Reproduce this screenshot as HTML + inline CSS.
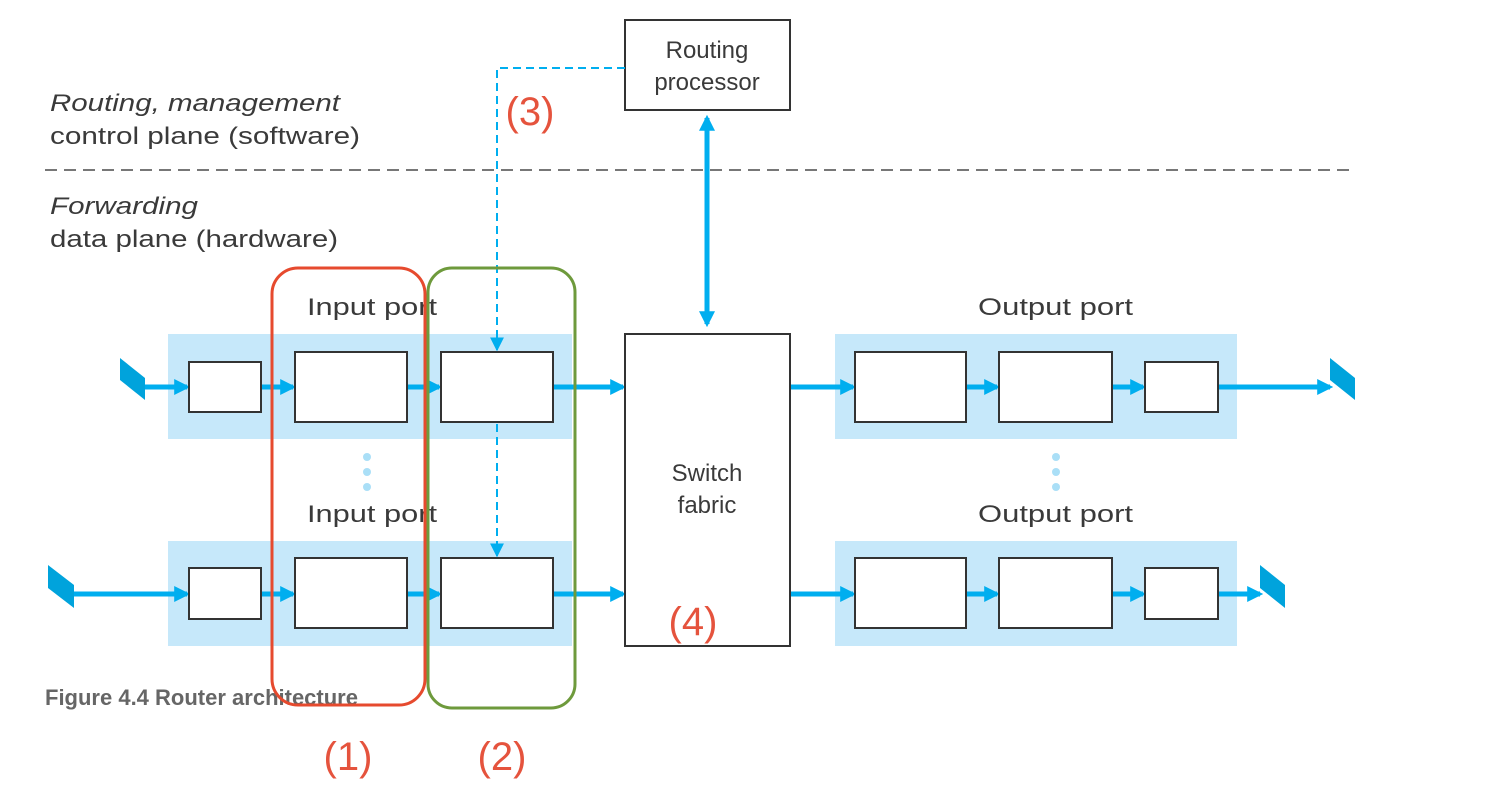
<!DOCTYPE html>
<html><head><meta charset="utf-8"><style>html,body{margin:0;padding:0;background:#fff}svg{display:block}</style></head>
<body>
<svg width="1488" height="792" viewBox="0 0 1488 792" xmlns="http://www.w3.org/2000/svg" font-family="Liberation Sans, sans-serif">
<defs>
<marker id="ah" viewBox="0 0 10 10" refX="8" refY="5" markerWidth="3.2" markerHeight="3.2" orient="auto-start-reverse"><path d="M0,0L10,5L0,10z" fill="#00aeef"/></marker>
<marker id="ahd" viewBox="0 0 10 10" refX="9" refY="5" markerWidth="7" markerHeight="7" orient="auto"><path d="M0,0L10,5L0,10z" fill="#00aeef"/></marker>
</defs>
<line x1="45" y1="170" x2="1355" y2="170" stroke="#777" stroke-width="2" stroke-dasharray="12,7"/>
<!-- bands -->
<rect x="168" y="334" width="404" height="105" fill="#c6e8fa"/>
<rect x="168" y="541" width="404" height="105" fill="#c6e8fa"/>
<rect x="835" y="334" width="402" height="105" fill="#c6e8fa"/>
<rect x="835" y="541" width="402" height="105" fill="#c6e8fa"/>
<g fill="#aadff7"><circle cx="367" cy="457" r="4"/><circle cx="367" cy="472" r="4"/><circle cx="367" cy="487" r="4"/><circle cx="1056" cy="457" r="4"/><circle cx="1056" cy="472" r="4"/><circle cx="1056" cy="487" r="4"/></g>
<!-- arrows -->
<g stroke="#00aeef" stroke-width="5" marker-end="url(#ah)" fill="none">
<line x1="145" y1="387" x2="187" y2="387"/><line x1="261" y1="387" x2="293" y2="387"/><line x1="407" y1="387" x2="439" y2="387"/><line x1="553" y1="387" x2="623" y2="387"/>
<line x1="74" y1="594" x2="187" y2="594"/><line x1="261" y1="594" x2="293" y2="594"/><line x1="407" y1="594" x2="439" y2="594"/><line x1="553" y1="594" x2="623" y2="594"/>
<line x1="790" y1="387" x2="853" y2="387"/><line x1="966" y1="387" x2="997" y2="387"/><line x1="1112" y1="387" x2="1143" y2="387"/><line x1="1218" y1="387" x2="1330" y2="387"/>
<line x1="790" y1="594" x2="853" y2="594"/><line x1="966" y1="594" x2="997" y2="594"/><line x1="1112" y1="594" x2="1143" y2="594"/><line x1="1218" y1="594" x2="1260" y2="594"/>
</g>
<!-- connectors -->
<g fill="#00a3dc"><path d="M120,358L145,378L145,400L120,380z"/><path d="M48,565L74,585L74,608L48,588z"/><path d="M1330,358L1355,378L1355,400L1330,380z"/><path d="M1260,565L1285,585L1285,608L1260,588z"/></g>
<!-- boxes -->
<g fill="#fff" stroke="#333" stroke-width="2">
<rect x="189" y="362" width="72" height="50"/><rect x="295" y="352" width="112" height="70"/><rect x="441" y="352" width="112" height="70"/>
<rect x="189" y="568" width="72" height="51"/><rect x="295" y="558" width="112" height="70"/><rect x="441" y="558" width="112" height="70"/>
<rect x="855" y="352" width="111" height="70"/><rect x="999" y="352" width="113" height="70"/><rect x="1145" y="362" width="73" height="50"/>
<rect x="855" y="558" width="111" height="70"/><rect x="999" y="558" width="113" height="70"/><rect x="1145" y="568" width="73" height="51"/>
<rect x="625" y="334" width="165" height="312"/>
<rect x="625" y="20" width="165" height="90"/>
</g>
<g fill="#3a3a3a" font-size="24">
<text x="50" y="111" font-style="italic" textLength="290" lengthAdjust="spacingAndGlyphs">Routing, management</text>
<text x="50" y="144" textLength="310" lengthAdjust="spacingAndGlyphs">control plane (software)</text>
<text x="50" y="214" font-style="italic" textLength="148" lengthAdjust="spacingAndGlyphs">Forwarding</text>
<text x="50" y="247" textLength="288" lengthAdjust="spacingAndGlyphs">data plane (hardware)</text>
<text x="307" y="315" textLength="130" lengthAdjust="spacingAndGlyphs">Input port</text>
<text x="307" y="522" textLength="130" lengthAdjust="spacingAndGlyphs">Input port</text>
<text x="978" y="315" textLength="155" lengthAdjust="spacingAndGlyphs">Output port</text>
<text x="978" y="522" textLength="155" lengthAdjust="spacingAndGlyphs">Output port</text>
<text x="707" y="481" text-anchor="middle">Switch</text>
<text x="707" y="513" text-anchor="middle">fabric</text>
<text x="707" y="58" text-anchor="middle">Routing</text>
<text x="707" y="90" text-anchor="middle">processor</text>
</g>
<!-- routing links -->
<line x1="707" y1="118" x2="707" y2="324" stroke="#00aeef" stroke-width="5" marker-start="url(#ah)" marker-end="url(#ah)"/>
<path d="M625,68H497V350" fill="none" stroke="#00aeef" stroke-width="2" stroke-dasharray="8,5" marker-end="url(#ahd)"/>
<path d="M497,424V556" fill="none" stroke="#00aeef" stroke-width="2" stroke-dasharray="8,5" marker-end="url(#ahd)"/>
<text x="45" y="705" font-size="22" font-weight="bold" fill="#666">Figure 4.4 Router architecture</text>
<rect x="272" y="268" width="153" height="437" rx="26" fill="none" stroke="#e64a2e" stroke-width="3"/>
<rect x="428" y="268" width="147" height="440" rx="24" fill="none" stroke="#6e9a3c" stroke-width="3"/>
<g fill="#e5533d" font-size="40">
<text x="348" y="770" text-anchor="middle">(1)</text>
<text x="502" y="770" text-anchor="middle">(2)</text>
<text x="530" y="125" text-anchor="middle">(3)</text>
<text x="693" y="635" text-anchor="middle">(4)</text>
</g>
</svg>
</body></html>
